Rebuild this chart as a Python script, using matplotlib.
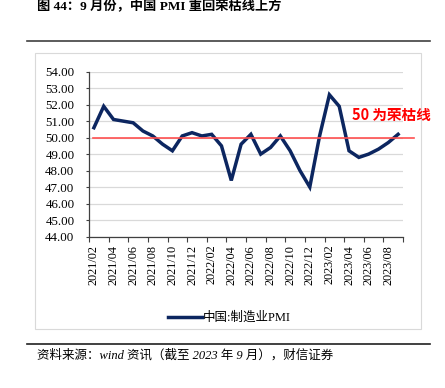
import matplotlib
matplotlib.use('Agg')
import matplotlib.pyplot as plt
from matplotlib.lines import Line2D
from matplotlib.patches import Rectangle

plt.rcParams['font.family'] = ['Liberation Serif', 'Noto Sans CJK SC']

# data: China manufacturing PMI, 2021/02 - 2023/09
months = ['2021/02', '2021/03', '2021/04', '2021/05', '2021/06', '2021/07', '2021/08', '2021/09',
          '2021/10', '2021/11', '2021/12', '2022/01', '2022/02', '2022/03', '2022/04', '2022/05',
          '2022/06', '2022/07', '2022/08', '2022/09', '2022/10', '2022/11', '2022/12', '2023/01',
          '2023/02', '2023/03', '2023/04', '2023/05', '2023/06', '2023/07', '2023/08', '2023/09']
pmi = [50.6, 51.9, 51.1, 51.0, 50.9, 50.4, 50.1, 49.6,
       49.2, 50.1, 50.3, 50.1, 50.2, 49.5, 47.4, 49.6,
       50.2, 49.0, 49.4, 50.1, 49.2, 48.0, 47.0, 50.1,
       52.6, 51.9, 49.2, 48.8, 49.0, 49.3, 49.7, 50.2]
threshold = 50.0
series_name = '中国:制造业PMI'

W, H = 445, 388
fig = plt.figure(figsize=(W / 100, H / 100), dpi=100)

def fx(px):
    return px / W

def fy(py):
    return 1 - py / H

# title
fig.text(fx(37), fy(7), '图 44：9 月份，中国 PMI 重回荣枯线上方', fontsize=9.5,
         fontweight='bold', ha='left', va='center',
         family=['Liberation Serif', 'Noto Sans CJK SC'])

# separator lines
fig.add_artist(Line2D([fx(27), fx(430)], [fy(41), fy(41)], color='#404040', lw=1.2))
fig.add_artist(Line2D([fx(27), fx(430)], [fy(343.5), fy(343.5)], color='#202020', lw=1.2))

# chart area border
fig.add_artist(Rectangle((fx(35), fy(329)), fx(420.7) - fx(35), fy(52.7) - fy(329),
                         transform=fig.transFigure, fill=False, ec='#d9d9d9', lw=0.8))

ax = fig.add_axes([fx(89), fy(236.5), fx(403) - fx(89), fy(71.7) - fy(236.5)])
x = list(range(len(months)))

ax.plot(x, pmi, color='#0c2660', lw=2.5, solid_joinstyle='miter', zorder=3)
ax.plot([-0.1, 32.6], [threshold, threshold], color='#ff5050', lw=1.2, clip_on=False, zorder=4)

ax.set_xlim(-0.5, len(months) - 0.5)
ax.set_ylim(44, 54)
ax.set_yticks(range(44, 55))
ax.set_yticklabels([f'{v:.2f}' for v in range(44, 55)])
ax.yaxis.grid(True, color='#d9d9d9', lw=0.9)
ax.set_axisbelow(True)

ax.set_xticks(x[::2])
ax.set_xticklabels(months[::2], rotation=90)
ax.set_xticks([i - 0.5 for i in range(0, len(months) + 1, 2)], minor=True)
ax.tick_params(axis='x', which='major', length=0, pad=6, labelsize=8.8)
ax.tick_params(axis='x', which='minor', length=3.5, width=0.8, direction='out', color='#404040')
ax.tick_params(axis='y', length=2.5, width=0.8, pad=8, labelsize=9.3, color='#404040')

for s in ['top', 'right']:
    ax.spines[s].set_visible(False)
for s in ['left', 'bottom']:
    ax.spines[s].set_color('#404040')
    ax.spines[s].set_linewidth(0.9)

# annotation
fig.text(fx(352), fy(115), '50 为荣枯线', color='#ff0000', fontsize=10.5, fontweight='bold',
         ha='left', va='center', family=['Noto Sans CJK SC'])

# legend
fig.add_artist(Line2D([fx(168), fx(202)], [fy(317), fy(317)], color='#0c2660', lw=2.5))
fig.text(fx(203), fy(318), series_name, fontsize=9, ha='left', va='center')

# source
fig.text(fx(37), fy(355), '资料来源：wind 资讯（截至 2023 年 9 月），财信证券', fontsize=9,
         style='italic', ha='left', va='center')

fig.savefig('out.png', dpi=100)
